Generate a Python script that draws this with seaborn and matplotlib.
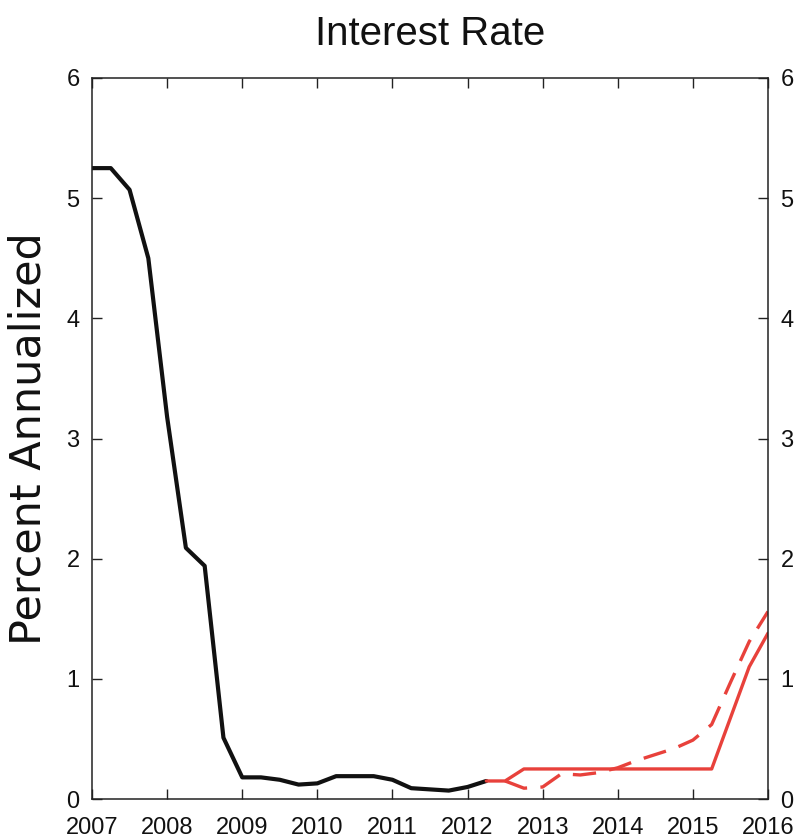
import matplotlib
matplotlib.use("Agg")
import matplotlib.pyplot as plt
import seaborn as sns
import pandas as pd
from matplotlib import font_manager as fm

# ---- data ----
hist_x = [2007.0, 2007.25, 2007.5, 2007.75, 2008.0, 2008.25, 2008.5, 2008.75,
          2009.0, 2009.25, 2009.5, 2009.75, 2010.0, 2010.25, 2010.5, 2010.75,
          2011.0, 2011.25, 2011.5, 2011.75, 2012.0, 2012.25]
hist_y = [5.25, 5.25, 5.07, 4.50, 3.18, 2.09, 1.94, 0.51,
          0.18, 0.18, 0.16, 0.12, 0.13, 0.19, 0.19, 0.19,
          0.16, 0.09, 0.08, 0.07, 0.10, 0.15]

solid_x = [2012.25, 2012.5, 2012.75, 2015.25, 2015.75, 2016.0]
solid_y = [0.15, 0.15, 0.25, 0.25, 1.10, 1.38]

dash_x = [2012.5, 2012.75, 2013.0, 2013.25, 2013.5, 2013.75, 2014.0, 2014.25,
          2014.5, 2014.75, 2015.0, 2015.25, 2015.5, 2015.75, 2016.0]
dash_y = [0.15, 0.09, 0.10, 0.21, 0.20, 0.22, 0.26, 0.32,
          0.37, 0.42, 0.49, 0.62, 0.97, 1.31, 1.56]

year_ticks = list(range(2007, 2017))
y_ticks = [0, 1, 2, 3, 4, 5, 6]

sns.set_theme(style="white")
names = {f.name for f in fm.fontManager.ttflist}
narrow = "Liberation Sans Narrow" if "Liberation Sans Narrow" in names else "Liberation Sans"
plt.rcParams['font.family'] = [narrow, 'DejaVu Sans']

fig = plt.figure(figsize=(7.94, 8.39), dpi=100)
ax = fig.add_axes([92/794, 40/839, 676/794, 721/839])

RED = "#e8413b"
sns.lineplot(x=hist_x, y=hist_y, color="#111111", linewidth=3.0, ax=ax)
sns.lineplot(x=solid_x, y=solid_y, color=RED, linewidth=2.4, ax=ax)
sns.lineplot(x=dash_x, y=dash_y, color=RED, linewidth=2.4, ax=ax)
ax.lines[-1].set_dashes([7, 4])

ax.set_xlim(2007, 2016)
ax.set_ylim(0, 6)
ax.set_xticks(year_ticks)
ax.set_xticklabels([str(y) for y in year_ticks])
ax.set_yticks(y_ticks)
ax.set_yticklabels([str(v) for v in y_ticks])

for s in ax.spines.values():
    s.set_visible(True)
    s.set_color("#222222")
    s.set_linewidth(1.1)

ax.tick_params(axis='both', which='both', direction='in', length=7, width=1.0,
               color="#222222", top=True, right=True, bottom=True, left=True,
               labelsize=17, labelcolor="#111111")
ax.tick_params(axis='x', pad=13)
ax.tick_params(axis='y', pad=9, labelright=True)

ax.set_title("Interest Rate", fontsize=29, pad=24, color="#111111", family=[narrow, 'DejaVu Sans'])
ax.set_ylabel("Percent Annualized", fontsize=31, family=['DejaVu Sans'], color="#111111", labelpad=12)

fig.savefig("out.png", dpi=100)
